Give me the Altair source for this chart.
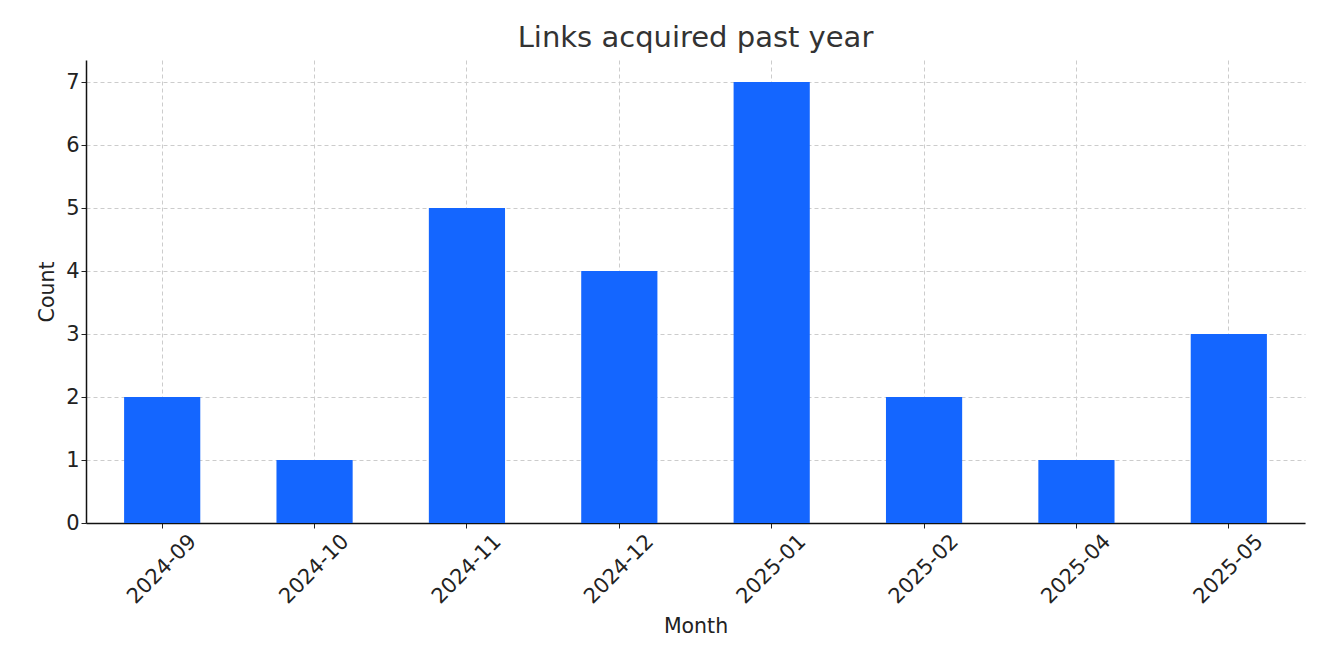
import altair as alt
import pandas as pd

months = ["2024-09", "2024-10", "2024-11", "2024-12", "2025-01", "2025-02", "2025-04", "2025-05"]
counts = [2, 1, 5, 4, 7, 2, 1, 3]
y_ticks = [0, 1, 2, 3, 4, 5, 6, 7]

df = pd.DataFrame({"Month": months, "Count": counts})

FONT = "DejaVu Sans"

chart = alt.Chart(df).mark_bar(color="#1466ff").encode(
    x=alt.X(
        "Month:N",
        sort=months,
        scale=alt.Scale(paddingInner=0.5, paddingOuter=0.25),
        axis=alt.Axis(
            title="Month",
            labelAngle=-45,
            labelAlign="center",
            labelBaseline="middle",
            labelPadding=41,
            tickSize=5,
            tickColor="#222222",
            bandPosition=0.5,
            grid=True,
            titlePadding=9,
        ),
    ),
    y=alt.Y(
        "Count:Q",
        scale=alt.Scale(domain=[0, 7.35], nice=False),
        axis=alt.Axis(
            title="Count",
            values=y_ticks,
            format="d",
            tickSize=5,
            tickColor="#222222",
            labelPadding=2,
            grid=True,
            titlePadding=8,
        ),
    ),
).properties(
    width=1219,
    height=463,
    title=alt.TitleParams(
        "Links acquired past year",
        font=FONT,
        fontSize=29,
        fontWeight="normal",
        color="#333333",
        anchor="middle",
        offset=7,
    ),
    autosize=alt.AutoSizeParams(type="none"),
    padding={"left": 78, "top": 52, "right": 16, "bottom": 134},
).configure_view(
    stroke=None
).configure_axis(
    labelFont=FONT,
    titleFont=FONT,
    labelFontSize=21,
    titleFontSize=20.5,
    titleFontWeight="normal",
    labelColor="#222222",
    titleColor="#222222",
    domainColor="#111111",
    domainWidth=1.5,
    gridColor="#cccccc",
    gridDash=[4, 3],
    gridWidth=1,
    zindex=1,
)

chart.save("out.html", embed_options={"renderer": "svg", "actions": False})
